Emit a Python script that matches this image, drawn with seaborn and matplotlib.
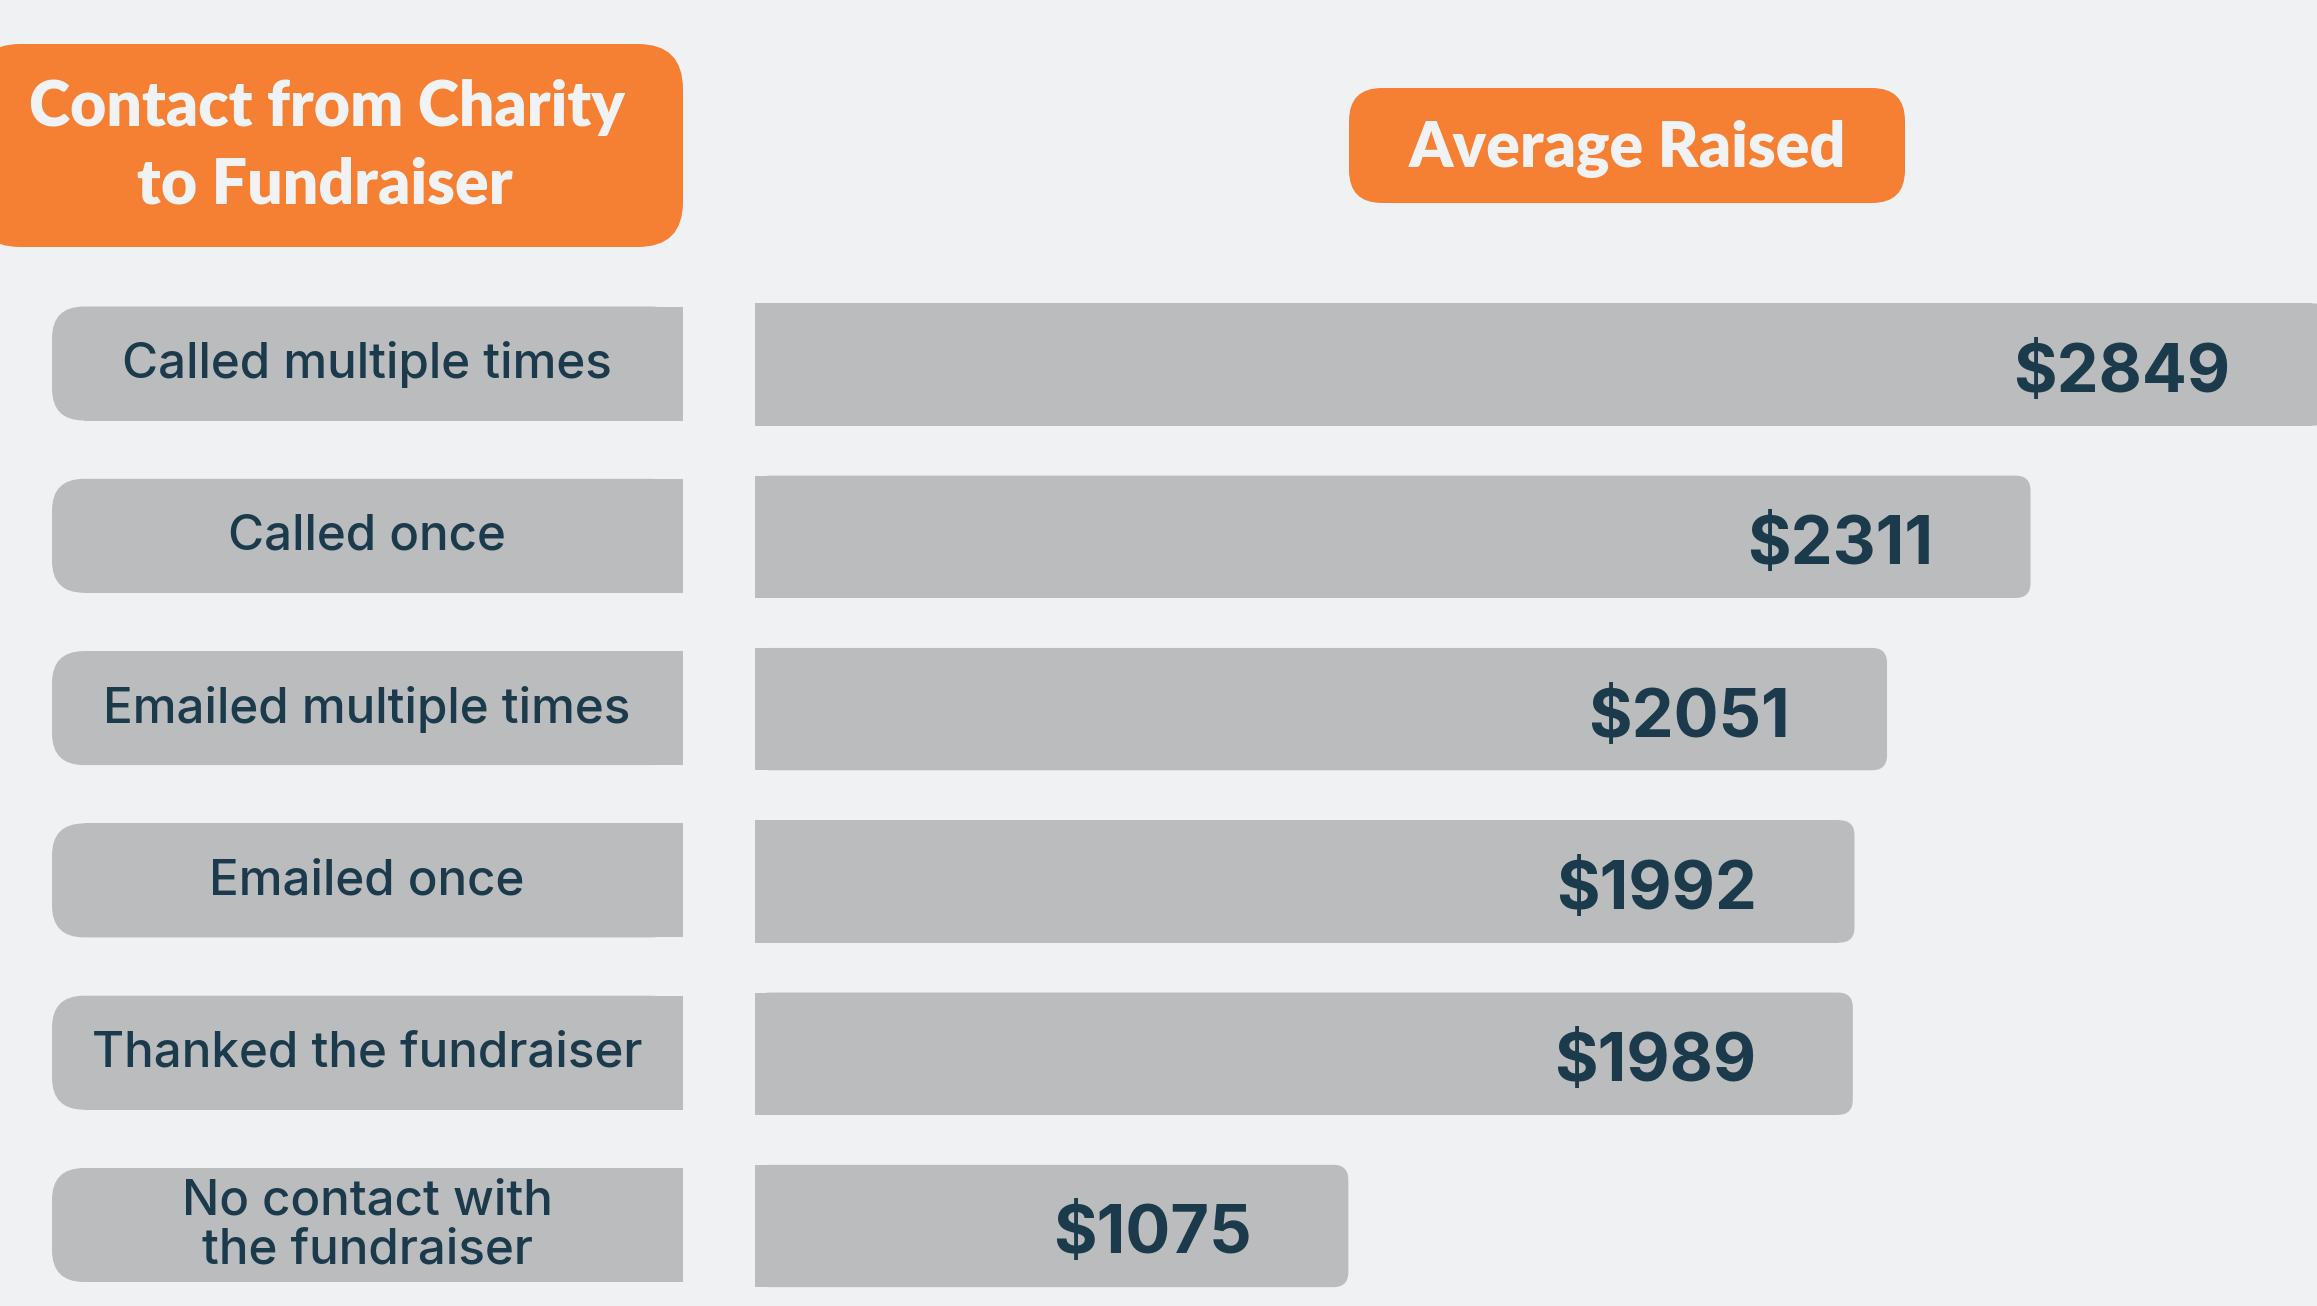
import matplotlib
matplotlib.use("Agg")
import matplotlib.pyplot as plt
from matplotlib.patches import FancyBboxPatch, Rectangle
from matplotlib.transforms import IdentityTransform
import seaborn as sns

# data
categories = ["Called multiple times", "Called once", "Emailed multiple times",
              "Emailed once", "Thanked the fundraiser",
              "No contact with\nthe fundraiser"]
avg_raised = [2849, 2311, 2051, 1992, 1989, 1075]
value_labels = [f"${v}" for v in avg_raised]

left_title = ["Contact from Charity", "to Fundraiser"]
right_title = "Average Raised"

BG = "#F0F1F3"
ORANGE = "#F58033"
GREY = "#BBBCBE"
DARK = "#1B3A4B"
LIGHT = "#F1F2F4"

W, H = 2317, 1306

sns.set_theme(style="white")
plt.rcParams["font.family"] = ["Lato", "DejaVu Sans"]

fig = plt.figure(figsize=(W / 100, H / 100), dpi=100, facecolor=BG)
ax = fig.add_axes([755 / W, 0, 1 - 755 / W, 1])
ax.patch.set_visible(False)

sns.barplot(x=avg_raised, y=categories, orient="h", color=GREY,
            saturation=1, width=0.71, linewidth=0, edgecolor=GREY, ax=ax)

ax.set_xlim(0, 2830)
ax.set_ylim((H - 364.5) / 172.3, -364.5 / 172.3)
for s in ax.spines.values():
    s.set_visible(False)
ax.set_xticks([])
ax.set_xlabel("")
ax.set_ylabel("")
ax.tick_params(axis="y", length=0, pad=(755 - 367) * 0.72,
               labelsize=35.5, labelcolor=DARK)
for lbl in ax.get_yticklabels():
    lbl.set_horizontalalignment("center")
    lbl.set_verticalalignment("center")
    lbl.set_linespacing(1.08)
    lbl.set_family(["Inter", "DejaVu Sans"])
    lbl.set_fontweight("medium")

tr = ax.transData
px_per_dollar = ax.bbox.width / 2830

# rounded right end for each bar
r = 15
for p in list(ax.patches):
    (x0, y0), (x1, y1) = tr.transform([(p.get_x(), p.get_y()),
                                       (p.get_x() + p.get_width(), p.get_y() + p.get_height())])
    bx0, bx1 = sorted([x0, x1])
    by0, by1 = sorted([y0, y1])
    ax.add_patch(FancyBboxPatch((bx0, by0), bx1 - bx0, by1 - by0,
                                boxstyle=f"round,pad=0,rounding_size={r}",
                                transform=IdentityTransform(), fc=GREY, ec="none",
                                lw=0, zorder=0.5))
    p.set_width(p.get_width() - r / px_per_dollar)

# value labels
for i, (v, txt) in enumerate(zip(avg_raised, value_labels)):
    ax.annotate(txt, xy=(v, i), xytext=(-97, -27.5), textcoords="offset pixels",
                ha="right", va="baseline", fontsize=48, fontweight="bold",
                family=["Inter", "DejaVu Sans"],
                color=DARK, annotation_clip=False, zorder=3)

# grey label boxes behind the tick labels (rounded on the left only)
lr = 32
for i in range(len(categories)):
    yc = tr.transform((0, i))[1] + 1
    bh = 114
    fig.add_artist(FancyBboxPatch((52, yc - bh / 2), 683 - 52, bh,
                                  boxstyle=f"round,pad=0,rounding_size={lr}",
                                  transform=IdentityTransform(), fc=GREY, ec="none",
                                  lw=0, zorder=-1))
    fig.add_artist(Rectangle((52 + lr, yc - bh / 2), 683 - 52 - lr, bh,
                             transform=IdentityTransform(), fc=GREY, ec="none",
                             lw=0, zorder=-1))

# orange headers
fig.add_artist(FancyBboxPatch((-25, H - 247), 683 + 25, 247 - 44,
                              boxstyle="round,pad=0,rounding_size=45",
                              transform=IdentityTransform(), fc=ORANGE, ec="none",
                              lw=0, zorder=-1))
fig.text(327 / W, 1 - 126 / H, left_title[0], ha="center", va="baseline",
         fontsize=45, fontweight="heavy", color=LIGHT)
fig.text(325 / W, 1 - 204 / H, left_title[1], ha="center", va="baseline",
         fontsize=45, fontweight="heavy", color=LIGHT)

fig.add_artist(FancyBboxPatch((1349, H - 203), 1905 - 1349, 203 - 88,
                              boxstyle="round,pad=0,rounding_size=33",
                              transform=IdentityTransform(), fc=ORANGE, ec="none",
                              lw=0, zorder=-1))
fig.text(1627 / W, 1 - 167 / H, right_title, ha="center", va="baseline",
         fontsize=45, fontweight="heavy", color=LIGHT)

fig.savefig("out.png", dpi=100, facecolor=BG)
